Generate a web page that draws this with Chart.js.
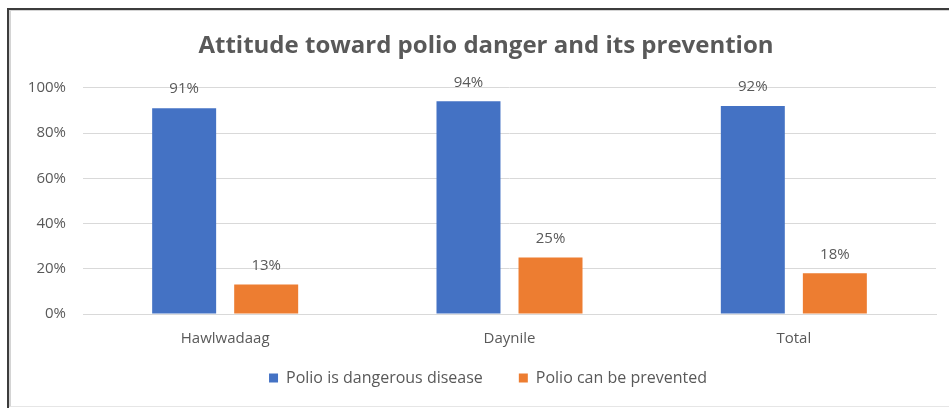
<!DOCTYPE html>
<html>
<head>
<meta charset="utf-8">
<script src="https://cdn.jsdelivr.net/npm/chart.js@4"></script>
<style>
  html, body { margin: 0; padding: 0; background: #fff; }
  #wrap { position: relative; width: 949px; height: 408px; overflow: hidden; }
  #chart { position: absolute; left: 0; top: 0; }
  .frame-dark { position: absolute; left: 7px; top: 8px; right: 0; bottom: 0;
    border-left: 2px solid #3c3c3c; border-top: 2px solid #3c3c3c; pointer-events: none; }
  .frame-light { position: absolute; left: 9px; top: 10px; right: 0; bottom: 1px;
    border-left: 2px solid #d4d4d4; border-top: 1px solid #d4d4d4; border-bottom: 1px solid #e6e6e6; pointer-events: none; }
</style>
</head>
<body>
<div id="wrap">
  <canvas id="chart" width="949" height="408"></canvas>
  <div class="frame-dark"></div>
  <div class="frame-light"></div>
</div>
<script>
const categories = ['Hawlwadaag', 'Daynile', 'Total'];
const dangerous = [91, 94, 92];
const preventable = [13, 25, 18];
const seriesNames = ['Polio is dangerous disease', 'Polio can be prevented'];
const yTicks = [0, 20, 40, 60, 80, 100];

const TEXT = '#595959';
const FONT = '"Open Sans", "Noto Sans", sans-serif';

// Writes each bar's percentage just above it
const valueLabels = {
  id: 'valueLabels',
  afterDatasetsDraw(chart) {
    const ctx = chart.ctx;
    ctx.save();
    ctx.font = '15px ' + FONT;
    ctx.fillStyle = TEXT;
    ctx.textAlign = 'center';
    ctx.textBaseline = 'middle';
    chart.data.datasets.forEach((ds, i) => {
      chart.getDatasetMeta(i).data.forEach((bar, j) => {
        ctx.fillText(ds.data[j] + '%', bar.x, bar.y - 19);
      });
    });
    ctx.restore();
  }
};

// Lets the category labels extend below the slim x-axis box,
// and centres the title and legend under the plot rather than the canvas
const layoutTweaks = {
  id: 'layoutTweaks',
  afterLayout(chart) {
    chart.scales.x.bottom = chart.height;
    chart.legend.left += 20;
    chart.legend.right += 20;
    chart.titleBlock.left += 18;
    chart.titleBlock.right += 18;
  }
};

new Chart(document.getElementById('chart'), {
  type: 'bar',
  data: {
    labels: categories,
    datasets: [
      { label: seriesNames[0], data: dangerous, backgroundColor: '#4472C4' },
      { label: seriesNames[1], data: preventable, backgroundColor: '#ED7D31' }
    ]
  },
  options: {
    responsive: false,
    animation: false,
    events: [],
    layout: { padding: { left: 0, right: 13, top: 0, bottom: 12 } },
    datasets: {
      bar: { categoryPercentage: 0.577, barPercentage: 0.78 }
    },
    scales: {
      x: {
        grid: { display: false, drawTicks: false },
        border: { display: true, color: '#d9d9d9', width: 1 },
        ticks: { color: TEXT, font: { family: FONT, size: 15 }, padding: 16 },
        afterFit(scale) { scale.height = 20; }
      },
      y: {
        min: 0, max: 100,
        afterBuildTicks(scale) { scale.ticks = yTicks.map(v => ({ value: v })); },
        grid: { color: '#d9d9d9', drawTicks: false },
        border: { display: false },
        ticks: {
          color: TEXT, font: { family: FONT, size: 15 }, padding: 17,
          callback: v => v + '%'
        },
        afterFit(scale) { scale.width = 83; }
      }
    },
    plugins: {
      title: {
        display: true,
        text: 'Attitude toward polio danger and its prevention',
        color: TEXT,
        font: { family: FONT, size: 24, weight: 'bold' },
        padding: { top: 32, bottom: 27 }
      },
      legend: {
        position: 'bottom',
        labels: {
          color: TEXT,
          font: { family: FONT, size: 16 },
          boxWidth: 9, boxHeight: 9, padding: 36
        }
      },
      tooltip: { enabled: false }
    }
  },
  plugins: [valueLabels, layoutTweaks]
});
</script>
</body>
</html>
